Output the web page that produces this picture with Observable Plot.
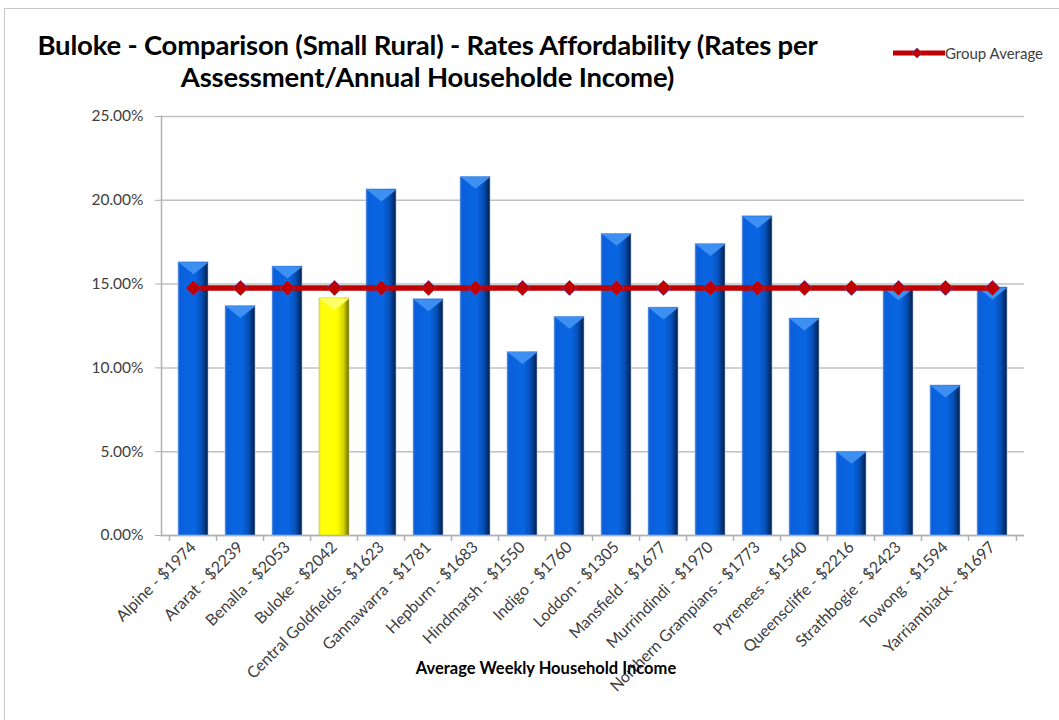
<!DOCTYPE html>
<html>
<head>
<meta charset="utf-8">
<script src="https://cdn.jsdelivr.net/npm/d3@7"></script>
<script src="https://cdn.jsdelivr.net/npm/@observablehq/plot@0.6"></script>
<style>
  body { margin: 0; background: #fff; }
  #wrap { position: relative; width: 1059px; height: 720px; overflow: hidden; font-family: Lato, "Open Sans", sans-serif; }
  #frame { position: absolute; left: 4px; top: 8px; width: 1060px; height: 720px; border: 1px solid #c8c8c8; box-sizing: border-box; }
  #title { position: absolute; left: 0; width: 855px; top: 29px; text-align: center; font-weight: bold; font-size: 27.5px; line-height: 32px; color: #000; letter-spacing: -0.2px; }
  #legend { position: absolute; left: 893px; top: 44px; font-size: 15px; color: #404040; display: flex; align-items: center; }
  #xlabel { position: absolute; left: 296px; width: 500px; top: 658px; text-align: center; font-weight: bold; font-size: 16.5px; color: #000; }
  #chart { position: absolute; left: 0; top: 0; }
</style>
</head>
<body>
<div id="wrap">
  <div id="frame"></div>
  <div id="chart"></div>
  <div id="title">Buloke - Comparison (Small Rural) - Rates Affordability (Rates per<br>Assessment/Annual Householde Income)</div>
  <div id="legend"><svg width="52" height="16"><line x1="0" y1="8" x2="52" y2="8" stroke="#c00000" stroke-width="5"/><path d="M24,3L29,8L24,13L19,8Z" fill="#c00000" stroke="#7a3a8a" stroke-width="0.8"/></svg><span>Group Average</span></div>
  <div id="xlabel">Average Weekly Household Income</div>
</div>
<script>
const councils = ["Alpine","Ararat","Benalla","Buloke","Central Goldfields","Gannawarra","Hepburn","Hindmarsh","Indigo","Loddon","Mansfield","Murrindindi","Northern Grampians","Pyrenees","Queenscliffe","Strathbogie","Towong","Yarriambiack"];
const incomes = [1974,2239,2053,2042,1623,1781,1683,1550,1760,1305,1677,1970,1773,1540,2216,2423,1594,1697];
const rates = [16.3,13.7,16.05,14.15,20.65,14.1,21.4,10.95,13.05,18.0,13.6,17.4,19.05,12.95,5.0,14.75,8.95,14.8];
const groupAverage = [14.77,14.77,14.77,14.77,14.77,14.77,14.77,14.77,14.77,14.77,14.77,14.77,14.77,14.77,14.77,14.77,14.77,14.77];
const yTicks = [0,5,10,15,20,25];
const highlight = "Buloke";

const data = councils.map((c, i) => ({
  name: c,
  label: `${c} - $${incomes[i]}`,
  rate: rates[i],
  avg: groupAverage[i]
}));
const labels = data.map(d => d.label);

const W = 1059, H = 720, mL = 161, mR = 35, mT = 116, mB = 185;
const step = (W - mL - mR) / labels.length;

const topFace = (half) => ({
  draw(ctx) { ctx.moveTo(-half, 0); ctx.lineTo(half, 0); ctx.lineTo(0, 12); ctx.closePath(); }
});
const diamond = {
  draw(ctx) { ctx.moveTo(0, -7.5); ctx.lineTo(7.5, 0); ctx.lineTo(0, 7.5); ctx.lineTo(-7.5, 0); ctx.closePath(); }
};

const chart = Plot.plot({
  width: W, height: H,
  marginLeft: mL, marginRight: mR, marginTop: mT, marginBottom: mB,
  style: { fontFamily: "Lato, 'Open Sans', sans-serif", color: "#404040", background: "transparent" },
  marks: [
    Plot.gridY(yTicks, { stroke: "#c0c0c0", strokeOpacity: 1, strokeWidth: 1.5 }),
    Plot.axisY(yTicks, { tickFormat: d => d.toFixed(2) + "%", label: null, tickSize: 6, tickPadding: 12, fontSize: 15.5, stroke: "#b0b0b0", fill: "#404040" }),
    Plot.axisX(labels, { label: null, tickSize: 0, tickPadding: 9, tickRotate: -45, fontSize: 16, fill: "#404040" }),
    Plot.frame({ anchor: "left", stroke: "#b0b0b0", strokeWidth: 1.5 }),
    Plot.ruleY([0], { stroke: "#b0b0b0", strokeWidth: 1.5 }),
    Plot.ruleX(data, { x: "label", y1: 0, y2: 0, insetBottom: -6, dx: -step / 2, stroke: "#b0b0b0", strokeWidth: 1.5 }),
    Plot.ruleX(data.slice(-1), { x: "label", y1: 0, y2: 0, insetBottom: -6, dx: step / 2, stroke: "#b0b0b0", strokeWidth: 1.5 }),
    Plot.barY(data.filter(d => d.name !== highlight), { x: "label", y: "rate", fill: "url(#blueGrad)", stroke: "#9ab8e8", strokeWidth: 0.6 }),
    Plot.barY(data.filter(d => d.name === highlight), { x: "label", y: "rate", fill: "url(#yellowGrad)", stroke: "#c8c860", strokeWidth: 0.6 }),
    Plot.dot(data.filter(d => d.name !== highlight), { x: "label", y: "rate", symbol: topFace(step * 0.315), fill: "#3d8ff2", stroke: "none" }),
    Plot.dot(data.filter(d => d.name === highlight), { x: "label", y: "rate", symbol: topFace(step * 0.315), fill: "#ffff66", stroke: "none" }),
    Plot.line(data, { x: "label", y: "avg", stroke: "#c00000", strokeWidth: 5.5 }),
    Plot.dot(data, { x: "label", y: "avg", symbol: diamond, fill: "#c00000", stroke: "#7a3a8a", strokeWidth: 0.8 })
  ],
  x: { domain: labels, paddingInner: 0.37, paddingOuter: 0.185 },
  y: { domain: [0, 25] }
});

const ns = "http://www.w3.org/2000/svg";
const defs = document.createElementNS(ns, "defs");
defs.innerHTML = `
<linearGradient id="blueGrad" x1="0" x2="1" y1="0" y2="0">
  <stop offset="0" stop-color="#2a72d8"/>
  <stop offset="0.08" stop-color="#0a60dc"/>
  <stop offset="0.55" stop-color="#0966e2"/>
  <stop offset="0.78" stop-color="#0650b8"/>
  <stop offset="1" stop-color="#041d48"/>
</linearGradient>
<linearGradient id="yellowGrad" x1="0" x2="1" y1="0" y2="0">
  <stop offset="0" stop-color="#e6e600"/>
  <stop offset="0.08" stop-color="#ffff10"/>
  <stop offset="0.6" stop-color="#ffff00"/>
  <stop offset="0.82" stop-color="#d4d400"/>
  <stop offset="1" stop-color="#6a6a00"/>
</linearGradient>`;
chart.insertBefore(defs, chart.firstChild);
document.getElementById("chart").appendChild(chart);
</script>
</body>
</html>
